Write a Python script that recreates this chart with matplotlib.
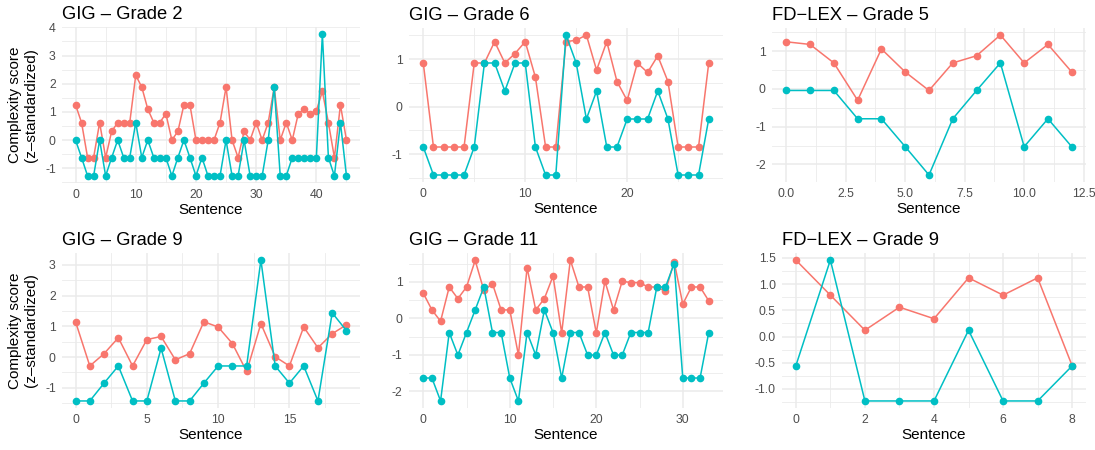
import numpy as np
import matplotlib
matplotlib.use("Agg")
from matplotlib import pyplot as plt
from matplotlib.ticker import MultipleLocator, FormatStrFormatter

plt.rcParams['font.family'] = ['Liberation Sans', 'DejaVu Sans']
plt.rcParams['axes.unicode_minus'] = True

RED = "#F8766D"
TEAL = "#00BFC4"

# GIG - Grade 2
g2_red = [1.25, 0.62, -0.62, -0.62, 0.62, -0.62, 0.31, 0.62, 0.62, 0.62,
          2.30, 1.88, 1.10, 0.62, 0.62, 0.94, 0.0, 0.31, 1.25, 1.25,
          0.0, 0.0, 0.0, 0.0, 0.62, 1.88, 0.0, -0.62, 0.31, 0.0,
          0.62, 0.0, 0.62, 1.88, 0.0, 0.62, 0.0, 0.94, 1.10, 0.94,
          1.04, 1.73, 0.62, -0.62, 1.25, 0.0]
g2_teal = [0.0, -0.62, -1.27, -1.27, 0.0, -1.27, -0.62, 0.0, -0.62, -0.62,
           0.62, -0.62, 0.0, -0.62, -0.62, -0.62, -1.27, -0.62, 0.0, -0.62,
           -1.27, -0.62, -1.27, -1.27, -1.27, 0.0, -1.27, -1.27, 0.0, -1.27,
           -1.27, -1.27, 0.0, 1.88, -1.27, -1.27, -0.62, -0.62, -0.62, -0.62,
           -0.62, 3.76, -0.62, -1.27, 0.62, -1.27]

# GIG - Grade 6
g6_red = [0.92, -0.85, -0.85, -0.85, -0.85, 0.92, 0.92, 1.37, 0.92, 1.12,
          1.37, 0.62, -0.85, -0.85, 1.37, 1.40, 1.51, 0.77, 1.37, 0.53,
          0.13, 0.92, 0.72, 1.07, 0.53, -0.85, -0.85, -0.85, 0.92]
g6_teal = [-0.85, -1.44, -1.44, -1.44, -1.44, -0.85, 0.92, 0.92, 0.33, 0.92,
           0.92, -0.85, -1.44, -1.44, 1.51, 0.92, -0.26, 0.33, -0.85, -0.85,
           -0.26, -0.26, -0.26, 0.33, -0.26, -1.44, -1.44, -1.44, -0.26]

# FD-LEX - Grade 5
f5_red = [1.25, 1.18, 0.69, -0.30, 1.06, 0.45, -0.04, 0.69, 0.88, 1.43,
          0.69, 1.18, 0.45]
f5_teal = [-0.04, -0.04, -0.04, -0.79, -0.79, -1.53, -2.28, -0.79, -0.04, 0.69,
           -1.53, -0.79, -1.53]

# GIG - Grade 9
g9_red = [1.15, -0.29, 0.11, 0.63, -0.29, 0.57, 0.67, -0.09, 0.11, 1.15,
          0.98, 0.44, -0.47, 1.09, 0.01, -0.29, 0.98, 0.30, 0.76, 1.05]
g9_teal = [-1.43, -1.43, -0.85, -0.29, -1.43, -1.43, 0.29, -1.43, -1.43, -0.85,
           -0.29, -0.29, -0.29, 3.16, -0.29, -0.85, -0.29, -1.43, 1.44, 0.86]

# GIG - Grade 11
g11_red = [0.69, 0.23, -0.08, 0.86, 0.54, 0.86, 1.59, 0.77, 0.95, 0.23,
           0.23, -1.01, 1.39, 0.23, 0.54, 1.16, -0.40, 1.60, 0.86, 0.86,
           -0.40, 1.02, 0.23, 1.02, 0.98, 0.98, 0.86, 0.86, 0.74, 1.56,
           0.39, 0.86, 0.86, 0.48]
g11_teal = [-1.64, -1.64, -2.27, -0.39, -1.01, -0.39, 0.23, 0.86, -0.39, -0.39,
            -1.64, -2.27, -0.39, -1.01, 0.23, -0.39, -1.64, -0.39, -0.39, -1.01,
            -1.01, -0.39, -1.01, -1.01, -0.39, -0.39, -0.39, 0.86, 0.86, 1.50,
            -1.64, -1.64, -1.64, -0.39]

# FD-LEX - Grade 9
f9_red = [1.46, 0.79, 0.12, 0.56, 0.34, 1.12, 0.79, 1.12, -0.56]
f9_teal = [-0.56, 1.46, -1.23, -1.23, -1.23, 0.12, -1.23, -1.23, -0.56]

W, H = 1095, 450
fig = plt.figure(figsize=(W / 100, H / 100), dpi=100)

# (title, red, teal, pixel box l, t, r, b, x step, y step, x fmt, y fmt, ylabel)
panels = [
    ("GIG \u2013 Grade 2", g2_red, g2_teal, (62, 27, 360, 183), 10, 1, "%d", "%d", True),
    ("GIG \u2013 Grade 6", g6_red, g6_teal, (409, 28, 723, 182), 10, 1, "%d", "%d", False),
    ("FD\u2212LEX \u2013 Grade 5", f5_red, f5_teal, (772, 28, 1086, 182), 2.5, 1, "%.1f", "%d", False),
    ("GIG \u2013 Grade 9", g9_red, g9_teal, (62, 253, 360, 408), 5, 1, "%d", "%d", True),
    ("GIG \u2013 Grade 11", g11_red, g11_teal, (409, 253, 723, 408), 10, 1, "%d", "%d", False),
    ("FD\u2212LEX \u2013 Grade 9", f9_red, f9_teal, (782, 253, 1086, 408), 2, 0.5, "%d", "%.1f", False),
]

for title, red, teal, box, xs, ys, xf, yf, ylab in panels:
    l, t, r, b = box
    ax = fig.add_axes([l / W, 1 - b / H, (r - l) / W, (b - t) / H])
    x = np.arange(len(red))
    ax.plot(x, red, color=RED, lw=1.1, marker="o", ms=4.5, zorder=3)
    ax.plot(x, teal, color=TEAL, lw=1.1, marker="o", ms=4.5, zorder=3)

    ax.xaxis.set_major_locator(MultipleLocator(xs))
    ax.xaxis.set_minor_locator(MultipleLocator(xs / 2))
    ax.yaxis.set_major_locator(MultipleLocator(ys))
    ax.yaxis.set_minor_locator(MultipleLocator(ys / 2))
    ax.xaxis.set_major_formatter(FormatStrFormatter(xf))
    ax.yaxis.set_major_formatter(FormatStrFormatter(yf))

    ax.grid(which="major", color="#EBEBEB", lw=1.1)
    ax.grid(which="minor", color="#EBEBEB", lw=0.6)
    ax.set_axisbelow(True)
    for s in ax.spines.values():
        s.set_visible(False)
    ax.tick_params(which="both", length=0, labelsize=8.8, labelcolor="#4D4D4D", pad=4.5)

    ax.set_title(title, loc="left", fontsize=13.2, pad=6)
    ax.set_xlabel("Sentence", fontsize=11, labelpad=1)
    if ylab:
        ax.set_ylabel("Complexity score\n(z\u2013standardized)", fontsize=11, labelpad=5)

fig.savefig("out.png", dpi=100)
